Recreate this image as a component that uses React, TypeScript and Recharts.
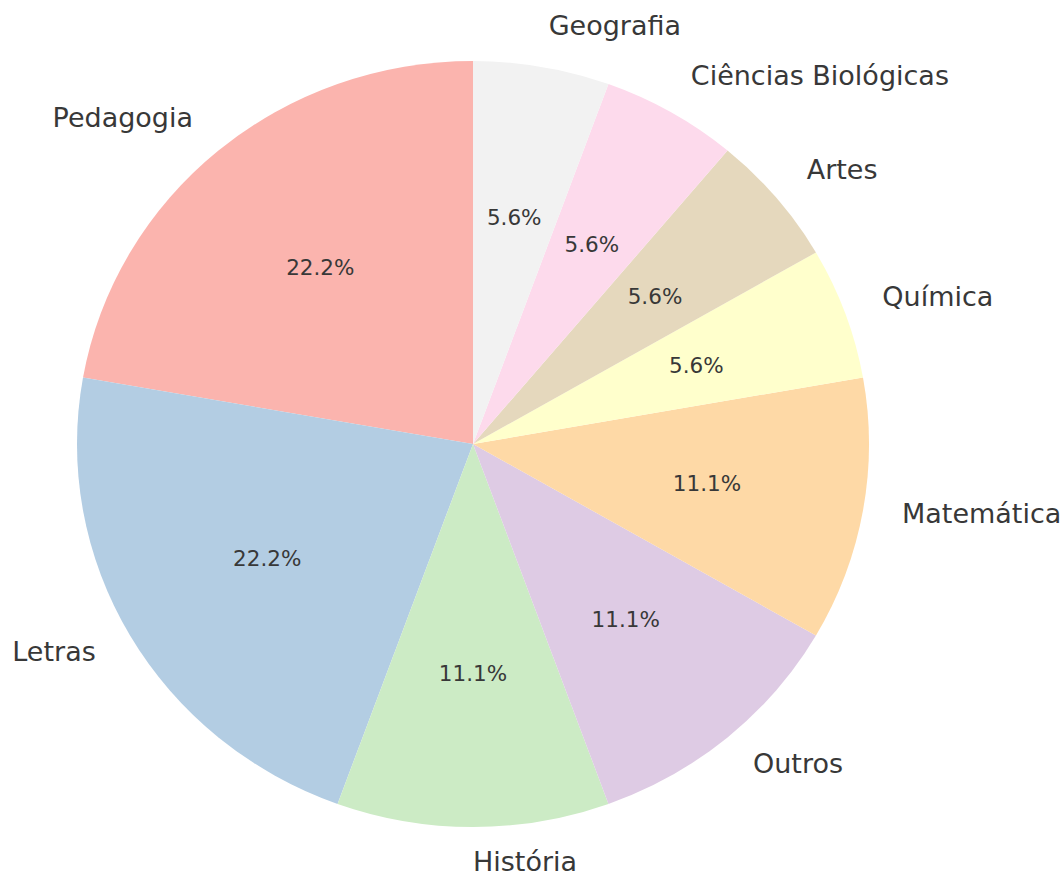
import { PieChart, Pie, Cell } from "recharts";

const AREAS = [
  "Pedagogia",
  "Letras",
  "História",
  "Outros",
  "Matemática",
  "Química",
  "Artes",
  "Ciências Biológicas",
  "Geografia",
];
const COUNTS = [4, 4, 2, 2, 2, 1, 1, 1, 1];
const COLORS = [
  "#fbb4ae",
  "#b3cde3",
  "#ccebc5",
  "#decbe4",
  "#fed9a6",
  "#ffffcc",
  "#e5d8bd",
  "#fddaec",
  "#f2f2f2",
];

const data = AREAS.map((name, i) => ({ name, value: COUNTS[i] }));

// reference image is slightly squashed vertically
const SCALE_Y = 383 / 396;
const RADIUS = 396;
const TEXT = "#383838";
const RAD = Math.PI / 180;

function renderLabel(props: any) {
  const { cx, cy, midAngle, outerRadius, percent, name } = props;
  const c = Math.cos(-midAngle * RAD);
  const s = Math.sin(-midAngle * RAD);
  const px = cx + outerRadius * 0.6 * c;
  const py = cy + outerRadius * 0.6 * s;
  const lx = cx + outerRadius * 1.1 * c;
  const ly = cy + outerRadius * 1.1 * s;
  return (
    <g>
      <text
        x={px}
        y={py}
        textAnchor="middle"
        dominantBaseline="central"
        fill={TEXT}
        fontSize={21.5}
      >
        {(percent * 100).toFixed(1) + "%"}
      </text>
      <text
        x={lx}
        y={ly}
        dy={-3.5}
        textAnchor={c > -1e-6 ? "start" : "end"}
        dominantBaseline="central"
        fill={TEXT}
        fontSize={27}
      >
        {name}
      </text>
    </g>
  );
}

export default function App() {
  return (
    <div
      style={{
        position: "absolute",
        top: 0,
        left: 0,
        width: 1063,
        height: 874,
        overflow: "hidden",
        background: "#fff",
        fontFamily: "'DejaVu Sans', sans-serif",
      }}
    >
      <div style={{ transform: `scaleY(${SCALE_Y})`, transformOrigin: "0 0" }}>
        <PieChart
          width={1063}
          height={Math.round(874 / SCALE_Y)}
          margin={{ top: 0, right: 0, bottom: 0, left: 0 }}
        >
          <Pie
            data={data}
            dataKey="value"
            nameKey="name"
            cx={473}
            cy={444 / SCALE_Y}
            outerRadius={RADIUS}
            startAngle={90}
            endAngle={450}
            stroke="none"
            labelLine={false}
            label={renderLabel}
            isAnimationActive={false}
          >
            {data.map((_, i) => (
              <Cell key={`cell-${i}`} fill={COLORS[i]} />
            ))}
          </Pie>
        </PieChart>
      </div>
    </div>
  );
}
